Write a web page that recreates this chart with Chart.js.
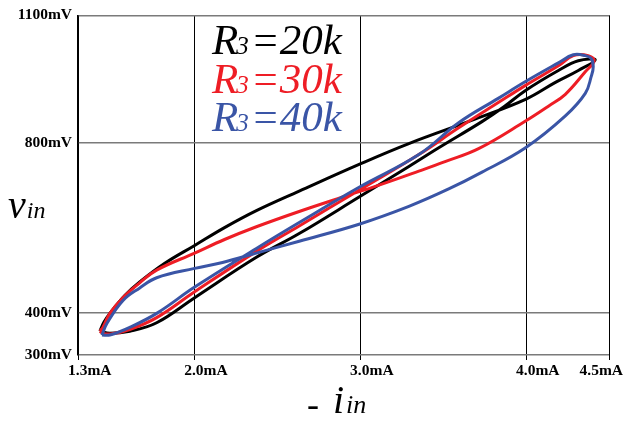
<!DOCTYPE html>
<html>
<head>
<meta charset="utf-8">
<title>vin vs -iin loops</title>
<script src="https://cdn.jsdelivr.net/npm/chart.js@4.4.1/dist/chart.umd.min.js"></script>
<style>
    html, body { margin: 0; padding: 0; background: #fff; }
    #wrap { width: 623px; height: 423px; }
</style>
</head>
<body>
<div id="wrap"><canvas id="loopChart" width="623" height="423"></canvas></div>
<script>
// --- Data ---
// x: -i_in in mA, y: v_in in mV. Each loop goes out along one branch and back along the other.
const xTicks = [1.3, 2.0, 3.0, 4.0, 4.5];
const yTicks = [300, 400, 800, 1100];
const seriesLabels = ['R3=20k', 'R3=30k', 'R3=40k'];
const seriesColors = ['#000000', '#ee1d25', '#3a55a6'];

const iBlack = [1.432, 1.456, 1.492, 1.582, 1.672, 1.823, 2.003, 2.183, 2.375, 2.633, 2.994, 3.294, 3.696, 3.997, 4.177, 4.315, 4.417,
    4.315, 4.195, 3.997, 3.865, 3.732, 3.474, 3.294, 2.994, 2.633, 2.375, 2.003, 1.774, 1.612, 1.492, 1.432];
const vBlack = [356, 377, 398, 440, 472, 516, 558, 600, 640, 686, 749, 798, 856, 902, 942, 970, 995,
    993, 970, 923, 884, 849, 788, 744, 672, 586, 530, 435, 376, 356, 351, 356];

const iRed = [1.432, 1.450, 1.492, 1.570, 1.672, 1.774, 2.003, 2.183, 2.375, 2.633, 2.934, 3.114, 3.354, 3.516, 3.714, 3.997, 4.135, 4.237, 4.357, 4.411,
    4.375, 4.285, 4.195, 3.997, 3.835, 3.594, 3.354, 2.994, 2.633, 2.375, 2.003, 1.774, 1.612, 1.504, 1.450, 1.432];
const vRed = [356, 365, 398, 435, 470, 500, 540, 572, 602, 638, 677, 700, 733, 756, 786, 851, 886, 914, 967, 993,
    1005, 1005, 981, 935, 895, 835, 772, 688, 604, 544, 449, 388, 360, 350, 351, 356];

const iBlue = [1.444, 1.474, 1.570, 1.672, 1.774, 2.003, 2.171, 2.375, 2.633, 2.994, 3.294, 3.534, 3.732, 3.997, 4.237, 4.357, 4.393, 4.405, 4.393,
    4.357, 4.285, 4.195, 3.997, 3.835, 3.594, 3.354, 2.994, 2.633, 2.375, 2.003, 1.774, 1.612, 1.492, 1.444];
const vBlue = [347, 374, 428, 458, 482, 504, 518, 540, 568, 608, 650, 691, 730, 788, 863, 916, 956, 979, 998,
    1005, 1007, 988, 944, 905, 847, 772, 695, 612, 551, 460, 398, 365, 347, 347];

const SERIF = '"Liberation Serif", "Times New Roman", serif';

function makeSet(label, xs, ys, color, order) {
    return {
        label: label,
        data: xs.map((x, k) => ({ x: x, y: ys[k] })),
        borderColor: color,
        backgroundColor: color,
        borderWidth: 3,
        showLine: true,
        fill: false,
        tension: 0.4,
        pointRadius: 0,
        order: order
    };
}

// --- Texts that need subscripts: axis titles, tick labels under x, legend ---
const textPlugin = {
    id: 'textPlugin',
    afterDraw(chart) {
        const ctx = chart.ctx;
        const xs = chart.scales.x;
        ctx.save();
        ctx.fillStyle = '#000';

        // x tick labels (sit a bit right of the tick, last one kept on canvas)
        ctx.font = 'bold 15.5px ' + SERIF;
        ctx.textAlign = 'left';
        ctx.textBaseline = 'middle';
        xs.ticks.forEach(t => {
            const txt = t.value.toFixed(1) + 'mA';
            const w = ctx.measureText(txt).width;
            let left = xs.getPixelForValue(t.value) - 10;
            if (left + w > chart.width) left = chart.width - w;
            ctx.fillText(txt, left, xs.top + 16);
        });

        // axis titles
        ctx.textBaseline = 'alphabetic';
        ctx.font = 'italic 40px ' + SERIF;
        ctx.fillText('v', 8, 218);
        let w = ctx.measureText('v').width;
        ctx.font = 'italic 24px ' + SERIF;
        ctx.fillText('in', 8 + w + 1, 218);

        ctx.font = '36px ' + SERIF;
        ctx.fillText('-', 307, 416);
        ctx.font = 'italic 40px ' + SERIF;
        ctx.fillText('i', 333, 413);
        w = ctx.measureText('i').width;
        ctx.font = 'italic 26px ' + SERIF;
        ctx.fillText('in', 333 + w + 2, 413);

        // legend
        chart.data.datasets.forEach(ds => {
            const k = seriesLabels.indexOf(ds.label);
            const base = 54 + k * 38.5;
            const m = ds.label.match(/^(R)(3)(.*)$/);
            let x = 212;
            ctx.fillStyle = ds.borderColor;
            ctx.font = 'italic 43px ' + SERIF;
            ctx.fillText(m[1], x, base);
            x += ctx.measureText(m[1]).width - 2;
            ctx.font = 'italic 25px ' + SERIF;
            ctx.fillText(m[2], x, base);
            x += ctx.measureText(m[2]).width + 2;
            ctx.font = 'italic 43px ' + SERIF;
            ctx.fillText(m[3], x, base);
        });
        ctx.restore();
    }
};

document.addEventListener('DOMContentLoaded', () => {
    const ctx = document.getElementById('loopChart').getContext('2d');
    new Chart(ctx, {
        type: 'scatter',
        data: {
            datasets: [
                makeSet(seriesLabels[0], iBlack, vBlack, seriesColors[0], 2),
                makeSet(seriesLabels[1], iRed, vRed, seriesColors[1], 1),
                makeSet(seriesLabels[2], iBlue, vBlue, seriesColors[2], 0)
            ]
        },
        options: {
            responsive: false,
            animation: false,
            devicePixelRatio: 1,
            layout: { padding: { top: 12, right: 14, left: 0, bottom: 0 } },
            plugins: { legend: { display: false }, tooltip: { enabled: false } },
            scales: {
                x: {
                    type: 'linear',
                    min: 1.3,
                    max: 4.5,
                    afterBuildTicks: s => { s.ticks = xTicks.map(v => ({ value: v })); },
                    afterFit: s => { s.height = 68; },
                    ticks: { display: false },
                    grid: { color: '#000', lineWidth: 1, drawTicks: true, tickLength: 5, tickColor: '#000' },
                    border: { display: false }
                },
                y: {
                    type: 'linear',
                    min: 300,
                    max: 1100,
                    afterBuildTicks: s => { s.ticks = yTicks.map(v => ({ value: v })); },
                    afterFit: s => { s.width = 78; },
                    ticks: {
                        callback: v => v + 'mV',
                        color: '#000',
                        padding: 6,
                        font: { family: SERIF, size: 15.5, weight: 'bold' }
                    },
                    grid: { color: '#7a7a7a', lineWidth: 1.5, drawTicks: false },
                    border: { color: '#000', width: 1.5 }
                }
            }
        },
        plugins: [textPlugin]
    });
});
</script>
</body>
</html>
